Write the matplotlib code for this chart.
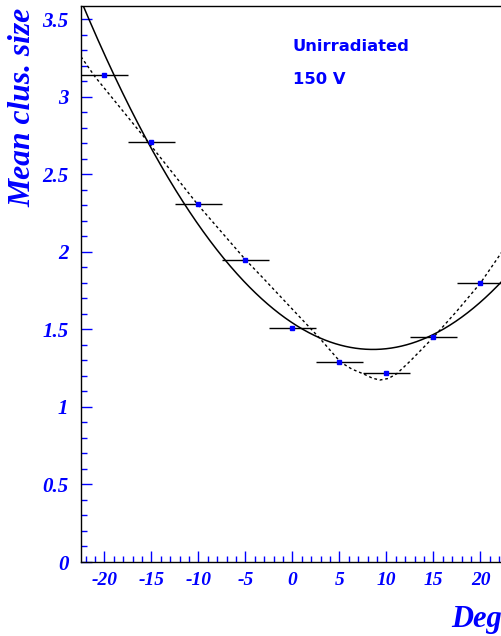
import numpy as np
import matplotlib
matplotlib.use("Agg")
import matplotlib.pyplot as plt
from matplotlib.ticker import MultipleLocator

# data points (angle in deg, mean cluster size)
angle = [-20, -15, -10, -5, 0, 5, 10, 15, 20]
clus_size = [3.14, 2.71, 2.31, 1.95, 1.51, 1.29, 1.22, 1.45, 1.80]
angle_err = [2.5] * len(angle)

# dashed model curve
model_x = [-22.5, -21.0, -15.5, -10.0, -5.0, -3.1, 0.0, 2.8, 5.1, 6.3, 7.6,
           8.5, 9.3, 10.2, 11.1, 12.5, 15.0, 17.5, 20.0, 22.5]
model_y = [3.26, 3.13, 2.72, 2.30, 1.95, 1.83, 1.63, 1.45, 1.29, 1.245, 1.212,
           1.186, 1.174, 1.184, 1.215, 1.295, 1.45, 1.62, 1.80, 2.02]

BLUE = "#0000ff"
serif_bi = dict(family="Liberation Serif", weight="bold", style="italic", color=BLUE)

fig = plt.figure(figsize=(5.02, 6.36), dpi=100)
ax = fig.add_axes([81 / 502, 74 / 636, 423 / 502, 556 / 636])

# pol2 fit (solid)
xf = np.linspace(-22.5, 22.5, 500)
p2 = np.polyfit(angle, clus_size, 2)
ax.plot(xf, np.polyval(p2, xf), color="black", lw=1.1)
ax.plot(model_x, model_y, color="black", lw=1.0, linestyle=(0, (2.0, 2.0)))

ax.errorbar(angle, clus_size, xerr=angle_err, fmt="s", ms=2.5, mfc=BLUE, mec=BLUE,
            ecolor="black", elinewidth=1.0, capsize=0, zorder=3)

ax.set_xlim(-22.5, 22.5)
ax.set_ylim(0, 3.587)

ax.xaxis.set_major_locator(MultipleLocator(5))
ax.xaxis.set_minor_locator(MultipleLocator(1))
ax.yaxis.set_major_locator(MultipleLocator(0.5))
ax.yaxis.set_minor_locator(MultipleLocator(0.1))
ax.tick_params(which="both", direction="in", color=BLUE, width=1, top=False, right=False)
ax.tick_params(which="major", length=8)
ax.tick_params(which="minor", length=4)
ax.tick_params(axis="y", pad=9)
ax.tick_params(axis="x", pad=7)
ax.yaxis.set_major_formatter(plt.FuncFormatter(lambda v, p: f"{v:g}"))
ax.xaxis.set_major_formatter(plt.FuncFormatter(lambda v, p: f"{v:g}"))
for lab in ax.get_yticklabels():
    lab.set(**serif_bi, fontsize=15)
for lab in ax.get_xticklabels():
    lab.set(**serif_bi, fontsize=14)

for s in ax.spines.values():
    s.set_color("black")
    s.set_linewidth(1.0)

ax.set_ylabel("Mean clus. size", loc="top", fontsize=22.8, **serif_bi)
ax.yaxis.set_label_coords(-0.104, 0.996)
ax.set_xlabel("Deg", loc="right", fontsize=22, **serif_bi)
ax.xaxis.set_label_coords(0.995, -0.078)

ax.text(0.501, 0.919, "Unirradiated", transform=ax.transAxes, fontsize=11.8,
        family="DejaVu Sans", weight="bold", color=BLUE)
ax.text(0.501, 0.860, "150 V", transform=ax.transAxes, fontsize=11.8,
        family="DejaVu Sans", weight="bold", color=BLUE)

fig.savefig("out.png", dpi=100)
